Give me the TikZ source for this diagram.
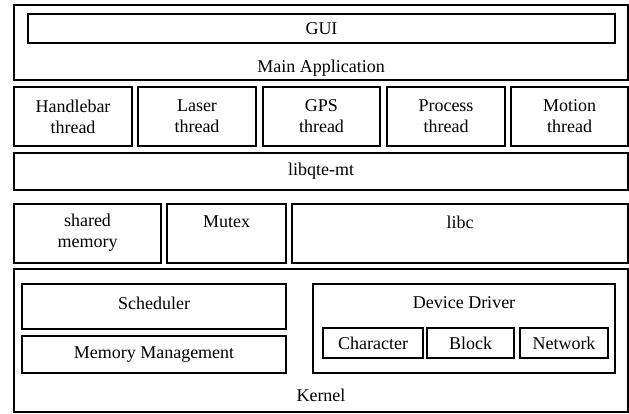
\documentclass[tikz,border=0pt]{standalone}
\usepackage{fontspec}
\setmainfont{Liberation Serif}
\begin{document}
\begin{tikzpicture}[x=1pt,y=-1pt,
  box/.style={draw=black,line width=1.5pt,fill=white,inner sep=0pt,outer sep=0pt,anchor=north west,align=center,font=\fontsize{18}{21}\selectfont},
  txt/.style={inner sep=0pt,align=center,font=\fontsize{18}{21}\selectfont}]
\useasboundingbox (0,0) rectangle (629,414);
% Main application
\node[box,minimum width=614pt,minimum height=75pt] (main) at (14,5) {};
\node[box,minimum width=587pt,minimum height=29pt] (gui) at (28,14) {GUI};
\node[txt] (maintxt) at (321,68) {Main Application};
% threads
\node[box,minimum width=118pt,minimum height=59pt] (t1) at (14,87) {Handlebar\\thread};
\node[box,minimum width=118pt,minimum height=59pt] (t2) at (138,87) {Laser\\thread};
\node[box,minimum width=117pt,minimum height=59pt] (t3) at (263,87) {GPS\\thread};
\node[box,minimum width=118pt,minimum height=59pt] (t4) at (387,87) {Process\\thread};
\node[box,minimum width=117pt,minimum height=59pt] (t5) at (511,87) {Motion\\thread};
% libqte
\node[box,minimum width=614pt,minimum height=37pt] (qte) at (14,153) {libqte-mt};
% shared / mutex / libc
\node[box,minimum width=147pt,minimum height=59pt] (shm) at (14,204) {};
\node[txt] (shmtxt) at (87.5,232.5) {shared\\memory};
\node[box,minimum width=119pt,minimum height=59pt] (mtx) at (167,204) {};
\node[txt] (mtxtxt) at (226.5,222) {Mutex};
\node[box,minimum width=336pt,minimum height=59pt] (libc) at (292,204) {};
\node[txt] (libctxt) at (460,222) {libc};
% kernel
\node[box,minimum width=614pt,minimum height=143pt] (kern) at (14,269) {};
\node[txt] (kerntxt) at (321,395) {Kernel};
\node[box,minimum width=264pt,minimum height=45pt] (sched) at (22,284) {};
\node[txt] (schedtxt) at (154,303) {Scheduler};
\node[box,minimum width=264pt,minimum height=37pt] (mm) at (22,336) {Memory Management};
\node[box,minimum width=302pt,minimum height=89pt] (dd) at (313,284) {};
\node[txt] (ddtxt) at (464,303) {Device Driver};
\node[box,minimum width=100pt,minimum height=30pt] (chr) at (323,328) {Character};
\node[box,minimum width=87pt,minimum height=30pt] (blk) at (427,328) {Block};
\node[box,minimum width=88pt,minimum height=30pt] (net) at (520,328) {Network};
\end{tikzpicture}
\end{document}
